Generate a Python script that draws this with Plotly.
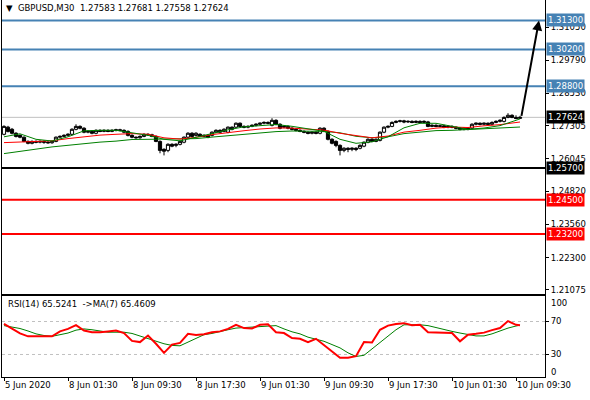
import plotly.graph_objects as go

# GBPUSD M30 bars, 5 Jun 2020 -> 10 Jun 2020 (bar index on the x axis)
opens = [1.2698, 1.2725, 1.2717, 1.2702, 1.2694, 1.2687, 1.2671, 1.2664, 1.2671, 1.2668,
         1.2671, 1.2668, 1.2666, 1.2671, 1.2687, 1.2690, 1.2694, 1.2698, 1.2717, 1.2728,
         1.2721, 1.2706, 1.2709, 1.2702, 1.2713, 1.2709, 1.2713, 1.2709, 1.2713, 1.2715,
         1.2713, 1.2709, 1.2694, 1.2687, 1.2685, 1.2690, 1.2698, 1.2696, 1.2690, 1.2671,
         1.2641, 1.2637, 1.2660, 1.2656, 1.2660, 1.2668, 1.2687, 1.2702, 1.2694, 1.2698,
         1.2690, 1.2694, 1.2694, 1.2706, 1.2713, 1.2709, 1.2706, 1.2725, 1.2725, 1.2740,
         1.2728, 1.2725, 1.2728, 1.2732, 1.2736, 1.2740, 1.2743, 1.2732, 1.2751, 1.2736,
         1.2725, 1.2728, 1.2721, 1.2717, 1.2713, 1.2709, 1.2706, 1.2702, 1.2706, 1.2702,
         1.2721, 1.2709, 1.2679, 1.2671, 1.2656, 1.2637, 1.2645, 1.2641, 1.2645, 1.2645,
         1.2653, 1.2668, 1.2679, 1.2671, 1.2675, 1.2706, 1.2725, 1.2728, 1.2743, 1.2747,
         1.2749, 1.2745, 1.2747, 1.2743, 1.2747, 1.2743, 1.2745, 1.2728, 1.2732, 1.2728,
         1.2730, 1.2725, 1.2728, 1.2725, 1.2721, 1.2717, 1.2721, 1.2721, 1.2736, 1.2740,
         1.2736, 1.2740, 1.2736, 1.2743, 1.2747, 1.2747, 1.2762, 1.2770, 1.2762, 1.27583]
highs = [1.2732, 1.2730, 1.2722, 1.2706, 1.2698, 1.2690, 1.2675, 1.2675, 1.2675, 1.2675,
         1.2675, 1.2672, 1.2674, 1.2690, 1.2694, 1.2698, 1.2702, 1.2721, 1.2736, 1.2732,
         1.2725, 1.2713, 1.2713, 1.2717, 1.2717, 1.2717, 1.2717, 1.2717, 1.2719, 1.2719,
         1.2717, 1.2713, 1.2698, 1.2690, 1.2694, 1.2702, 1.2702, 1.2700, 1.2694, 1.2675,
         1.2645, 1.2664, 1.2664, 1.2664, 1.2675, 1.2690, 1.2706, 1.2706, 1.2706, 1.2702,
         1.2698, 1.2698, 1.2709, 1.2717, 1.2717, 1.2721, 1.2728, 1.2728, 1.2743, 1.2743,
         1.2732, 1.2732, 1.2736, 1.2740, 1.2743, 1.2747, 1.2747, 1.2759, 1.2755, 1.2740,
         1.2732, 1.2732, 1.2725, 1.2721, 1.2717, 1.2713, 1.2709, 1.2709, 1.2709, 1.2725,
         1.2725, 1.2713, 1.2683, 1.2675, 1.2660, 1.2649, 1.2649, 1.2649, 1.2649, 1.2660,
         1.2671, 1.2683, 1.2683, 1.2683, 1.2709, 1.2728, 1.2732, 1.2747, 1.2751, 1.2753,
         1.2753, 1.2751, 1.2751, 1.2751, 1.2751, 1.2751, 1.2749, 1.2736, 1.2736, 1.2734,
         1.2734, 1.2732, 1.2732, 1.2728, 1.2725, 1.2725, 1.2725, 1.2740, 1.2743, 1.2743,
         1.2743, 1.2743, 1.2747, 1.2751, 1.2755, 1.2766, 1.2778, 1.2774, 1.2770, 1.27681]
lows = [1.2694, 1.2705, 1.2698, 1.2686, 1.2683, 1.2668, 1.2660, 1.2660, 1.2664, 1.2664,
        1.2662, 1.2662, 1.2662, 1.2668, 1.2683, 1.2687, 1.2690, 1.2694, 1.2713, 1.2717,
        1.2702, 1.2702, 1.2698, 1.2698, 1.2706, 1.2706, 1.2706, 1.2706, 1.2709, 1.2709,
        1.2702, 1.2690, 1.2683, 1.2681, 1.2681, 1.2687, 1.2692, 1.2687, 1.2668, 1.2626,
        1.2618, 1.2630, 1.2649, 1.2649, 1.2656, 1.2664, 1.2683, 1.2687, 1.2690, 1.2687,
        1.2687, 1.2683, 1.2690, 1.2702, 1.2702, 1.2706, 1.2702, 1.2713, 1.2721, 1.2725,
        1.2721, 1.2721, 1.2725, 1.2728, 1.2732, 1.2736, 1.2736, 1.2728, 1.2732, 1.2717,
        1.2721, 1.2717, 1.2713, 1.2709, 1.2706, 1.2702, 1.2698, 1.2698, 1.2698, 1.2698,
        1.2706, 1.2675, 1.2660, 1.2649, 1.2618, 1.2630, 1.2630, 1.2634, 1.2634, 1.2641,
        1.2649, 1.2664, 1.2668, 1.2668, 1.2671, 1.2702, 1.2721, 1.2725, 1.2740, 1.2743,
        1.2740, 1.2741, 1.2740, 1.2740, 1.2740, 1.2740, 1.2725, 1.2725, 1.2725, 1.2725,
        1.2721, 1.2721, 1.2721, 1.2717, 1.2713, 1.2713, 1.2713, 1.2717, 1.2732, 1.2732,
        1.2732, 1.2732, 1.2732, 1.2740, 1.2743, 1.2743, 1.2759, 1.2759, 1.2755, 1.27558]
closes = [1.2728, 1.2709, 1.2702, 1.2690, 1.2687, 1.2671, 1.2664, 1.2671, 1.2668, 1.2671,
          1.2668, 1.2666, 1.2671, 1.2687, 1.2690, 1.2694, 1.2698, 1.2717, 1.2728, 1.2721,
          1.2706, 1.2709, 1.2702, 1.2713, 1.2709, 1.2713, 1.2709, 1.2713, 1.2715, 1.2713,
          1.2706, 1.2694, 1.2687, 1.2685, 1.2690, 1.2698, 1.2696, 1.2690, 1.2671, 1.2637,
          1.2634, 1.2660, 1.2653, 1.2660, 1.2671, 1.2687, 1.2702, 1.2690, 1.2702, 1.2690,
          1.2694, 1.2687, 1.2706, 1.2713, 1.2706, 1.2717, 1.2725, 1.2717, 1.2740, 1.2728,
          1.2725, 1.2728, 1.2732, 1.2736, 1.2740, 1.2743, 1.2740, 1.2751, 1.2736, 1.2721,
          1.2728, 1.2721, 1.2717, 1.2713, 1.2709, 1.2706, 1.2702, 1.2706, 1.2702, 1.2721,
          1.2709, 1.2679, 1.2664, 1.2656, 1.2637, 1.2645, 1.2641, 1.2645, 1.2641, 1.2656,
          1.2668, 1.2679, 1.2671, 1.2679, 1.2706, 1.2725, 1.2728, 1.2743, 1.2747, 1.2749,
          1.2745, 1.2747, 1.2743, 1.2747, 1.2743, 1.2747, 1.2728, 1.2732, 1.2728, 1.2730,
          1.2725, 1.2728, 1.2725, 1.2721, 1.2717, 1.2721, 1.2717, 1.2736, 1.2740, 1.2736,
          1.2740, 1.2736, 1.2743, 1.2747, 1.2751, 1.2762, 1.2770, 1.2762, 1.2758, 1.27624]
bars = list(range(len(closes)))

# moving averages on price, read every 4th bar
ma_bars = list(range(0, 129, 4)) + [129]
ma_fast = [1.26885, 1.26999, 1.26790, 1.26726, 1.26885, 1.27112, 1.27131, 1.27131, 1.27037,
           1.26942, 1.26790, 1.26733, 1.26866, 1.27018, 1.27150, 1.27264, 1.27313, 1.27351,
           1.27283, 1.27181, 1.27093, 1.26790, 1.26639, 1.26695, 1.26885, 1.27226, 1.27397,
           1.27397, 1.27283, 1.27169, 1.27218, 1.27309, 1.27510, 1.27567]
ma_mid = [1.26665, 1.26695, 1.26714, 1.26733, 1.26817, 1.26893, 1.26949, 1.26980, 1.27006,
          1.26980, 1.26847, 1.26798, 1.26866, 1.26968, 1.27055, 1.27116, 1.27181, 1.27222,
          1.27215, 1.27169, 1.27139, 1.27018, 1.26923, 1.26847, 1.26915, 1.27063, 1.27131,
          1.27215, 1.27256, 1.27237, 1.27302, 1.27347, 1.27427, 1.27446]
ma_slow = [1.26248, 1.26335, 1.26419, 1.26502, 1.26563, 1.26627, 1.26684, 1.26722, 1.26783,
           1.26790, 1.26790, 1.26790, 1.26817, 1.26874, 1.26930, 1.26972, 1.27018, 1.27082,
           1.27105, 1.27105, 1.27093, 1.27037, 1.26904, 1.26847, 1.26885, 1.27006, 1.27067,
           1.27120, 1.27131, 1.27162, 1.27196, 1.27215, 1.27245, 1.27256]

# RSI(14) and its MA(7), read every 2nd bar
rsi_bars = list(range(0, 129, 2)) + [129]
rsi = [67, 61, 55.5, 52, 52, 52, 52, 58, 61, 65.5, 59, 57, 57, 58, 59, 56, 46.5, 45, 53, 43,
       32, 42, 44, 55, 53.5, 54.5, 57, 58, 61, 66, 62, 61.5, 66, 66.5, 57, 56, 50, 49, 45, 49,
       41, 33.5, 26, 26, 28, 45, 44.5, 60, 65, 67, 68, 65.5, 66, 57, 56.5, 56, 56, 46, 54, 55,
       56.5, 59.5, 62, 70.5, 66, 65.5241]
rsi_ma = [65, 63, 61.5, 58.5, 55, 53, 52, 54, 56, 59.5, 61, 60, 58.5, 57, 57, 57, 55.5, 52.5,
          49, 46, 43, 41, 40.5, 45, 50, 54, 55.5, 58, 60, 62, 62.5, 63, 63.5, 64, 65, 61, 57.5,
          55, 51, 48.5, 46, 42, 38, 32, 27.6, 29, 37, 45, 53, 60, 66, 66, 66, 65, 62.5, 60, 58,
          56, 54, 52.5, 52.5, 55, 58.5, 62, 64.5, 65.4609]
rsi_levels = [30, 70]
rsi_scale = [100, 0]

# horizontal levels drawn on the chart
levels = [1.31300, 1.30200, 1.28800, 1.25700, 1.24500, 1.23200]
level_colors = ['#4682B4', '#4682B4', '#4682B4', '#000000', '#FF0000', '#FF0000']

price_ticks = [1.31050, 1.29790, 1.28530, 1.27305, 1.26045, 1.24820, 1.23560, 1.22300, 1.21075]
time_ticks = [0, 16, 32, 48, 64, 80, 96, 112, 128]
time_labels = ['5 Jun 2020', '8 Jun 01:30', '8 Jun 09:30', '8 Jun 17:30', '9 Jun 01:30',
               '9 Jun 09:30', '9 Jun 17:30', '10 Jun 01:30', '10 Jun 09:30']

FONT = 'DejaVu Sans'
FS = 8.5
X_END = 545 / 590

fig = go.Figure()

for lvl, col in zip(levels, level_colors):
    fig.add_shape(type='line', xref='x domain', x0=0, x1=1, yref='y', y0=lvl, y1=lvl,
                  line=dict(color=col, width=2), layer='below')
    fig.add_annotation(xref='paper', x=X_END + 0.002, xanchor='left', yref='y', y=lvl,
                       text=f'{lvl:.5f}', showarrow=False, bgcolor=col, borderpad=1,
                       font=dict(family=FONT, size=FS, color='white'))

# current price line
fig.add_shape(type='line', xref='x domain', x0=0, x1=1, yref='y', y0=closes[-1], y1=closes[-1],
              line=dict(color='#C0C0C0', width=1), layer='below')
fig.add_annotation(xref='paper', x=X_END + 0.002, xanchor='left', yref='y', y=closes[-1],
                   text=f'{closes[-1]:.5f}', showarrow=False, bgcolor='black', borderpad=1,
                   font=dict(family=FONT, size=FS, color='white'))

fig.add_trace(go.Scatter(x=ma_bars, y=ma_slow, mode='lines', line=dict(color='#008000', width=1),
                         hoverinfo='skip'))
fig.add_trace(go.Scatter(x=ma_bars, y=ma_mid, mode='lines', line=dict(color='#FF0000', width=1),
                         hoverinfo='skip'))
fig.add_trace(go.Scatter(x=ma_bars, y=ma_fast, mode='lines', line=dict(color='#008000', width=1),
                         hoverinfo='skip'))

fig.add_trace(go.Candlestick(
    x=bars, open=opens, high=highs, low=lows, close=closes, whiskerwidth=0,
    increasing=dict(line=dict(color='black', width=1), fillcolor='white'),
    decreasing=dict(line=dict(color='black', width=1), fillcolor='black'),
    hoverinfo='skip'))

# arrow from the last close up to the first target level
fig.add_annotation(x=bars[-1] + 4.75, y=levels[0], ax=bars[-1] + 0.3, ay=closes[-1],
                   xref='x', yref='y', axref='x', ayref='y', text='', showarrow=True,
                   arrowhead=2, arrowsize=1, arrowwidth=2, arrowcolor='black')

# RSI panel
for lv in rsi_levels:
    fig.add_shape(type='line', xref='x2 domain', x0=0, x1=1, yref='y2', y0=lv, y1=lv,
                  line=dict(color='#C0C0C0', width=1, dash='3px,3px'), layer='below')
fig.add_trace(go.Scatter(x=rsi_bars, y=rsi_ma, mode='lines', line=dict(color='#008000', width=1),
                         xaxis='x2', yaxis='y2', hoverinfo='skip'))
fig.add_trace(go.Scatter(x=rsi_bars, y=rsi, mode='lines', line=dict(color='#FF0000', width=2),
                         xaxis='x2', yaxis='y2', hoverinfo='skip'))

# scale max/min labels sit just inside the panel, as in the terminal
for val, ypos in zip(rsi_scale, [1 - 7 / 81, 5 / 81]):
    fig.add_annotation(xref='paper', x=X_END + 0.006, xanchor='left', yref='y2 domain', y=ypos,
                       yanchor='middle', text=str(val), showarrow=False,
                       font=dict(family=FONT, size=FS, color='black'))

fig.add_annotation(xref='paper', yref='paper', x=4 / 590, y=1 - 8 / 400, xanchor='left',
                   yanchor='middle', showarrow=False,
                   text=f'▼  GBPUSD,M30  {opens[-1]:.5f} {highs[-1]:.5f} {lows[-1]:.5f} {closes[-1]:.5f}',
                   font=dict(family=FONT, size=FS, color='black'))
fig.add_annotation(xref='paper', yref='paper', x=6 / 590, y=1 - 304 / 400, xanchor='left',
                   yanchor='middle', showarrow=False,
                   text=f'RSI(14) {rsi[-1]:.4f}  ->MA(7) {rsi_ma[-1]:.4f}',
                   font=dict(family=FONT, size=FS, color='black'))

x_range = [-0.5, 135.25]
fig.update_layout(
    width=590, height=400, margin=dict(l=0, r=0, t=0, b=0, autoexpand=False),
    paper_bgcolor='white', plot_bgcolor='white', showlegend=False,
    boxgap=0.2, boxgroupgap=0,
    font=dict(family=FONT, size=FS, color='black'),
    xaxis=dict(domain=[2 / 590, X_END], range=x_range, anchor='y', showticklabels=False,
               showline=True, linecolor='black', linewidth=1, showgrid=False, zeroline=False,
               rangeslider=dict(visible=False), ticks='', automargin=False),
    yaxis=dict(domain=[1 - 294 / 400, 1], range=[1.20923, 1.32074], side='right', anchor='x',
               tickvals=price_ticks, ticktext=[f'{t:.5f}' for t in price_ticks],
               ticks='outside', ticklen=3, tickcolor='black', showline=True, mirror=True,
               linecolor='black', linewidth=1, showgrid=False, zeroline=False, automargin=False),
    xaxis2=dict(domain=[2 / 590, X_END], range=x_range, anchor='y2', tickvals=time_ticks,
                ticktext=time_labels, ticks='outside', ticklen=3, tickcolor='black',
                tickangle=0, ticklabelposition='outside right', showline=True, mirror=True,
                linecolor='black', linewidth=1, showgrid=False, zeroline=False, automargin=False),
    yaxis2=dict(domain=[1 - 377 / 400, 1 - 296 / 400], range=[2.7, 100.9], side='right',
                anchor='x2', tickvals=rsi_levels, ticks='outside', ticklen=3,
                tickcolor='black', showline=True, mirror=True, linecolor='black', linewidth=1,
                showgrid=False, zeroline=False, automargin=False),
)

# drop the default page margin so the 590x400 figure fills the window
fig.write_html('out.html', config={'displayModeBar': False},
               post_script="document.body.style.margin = '0';")
